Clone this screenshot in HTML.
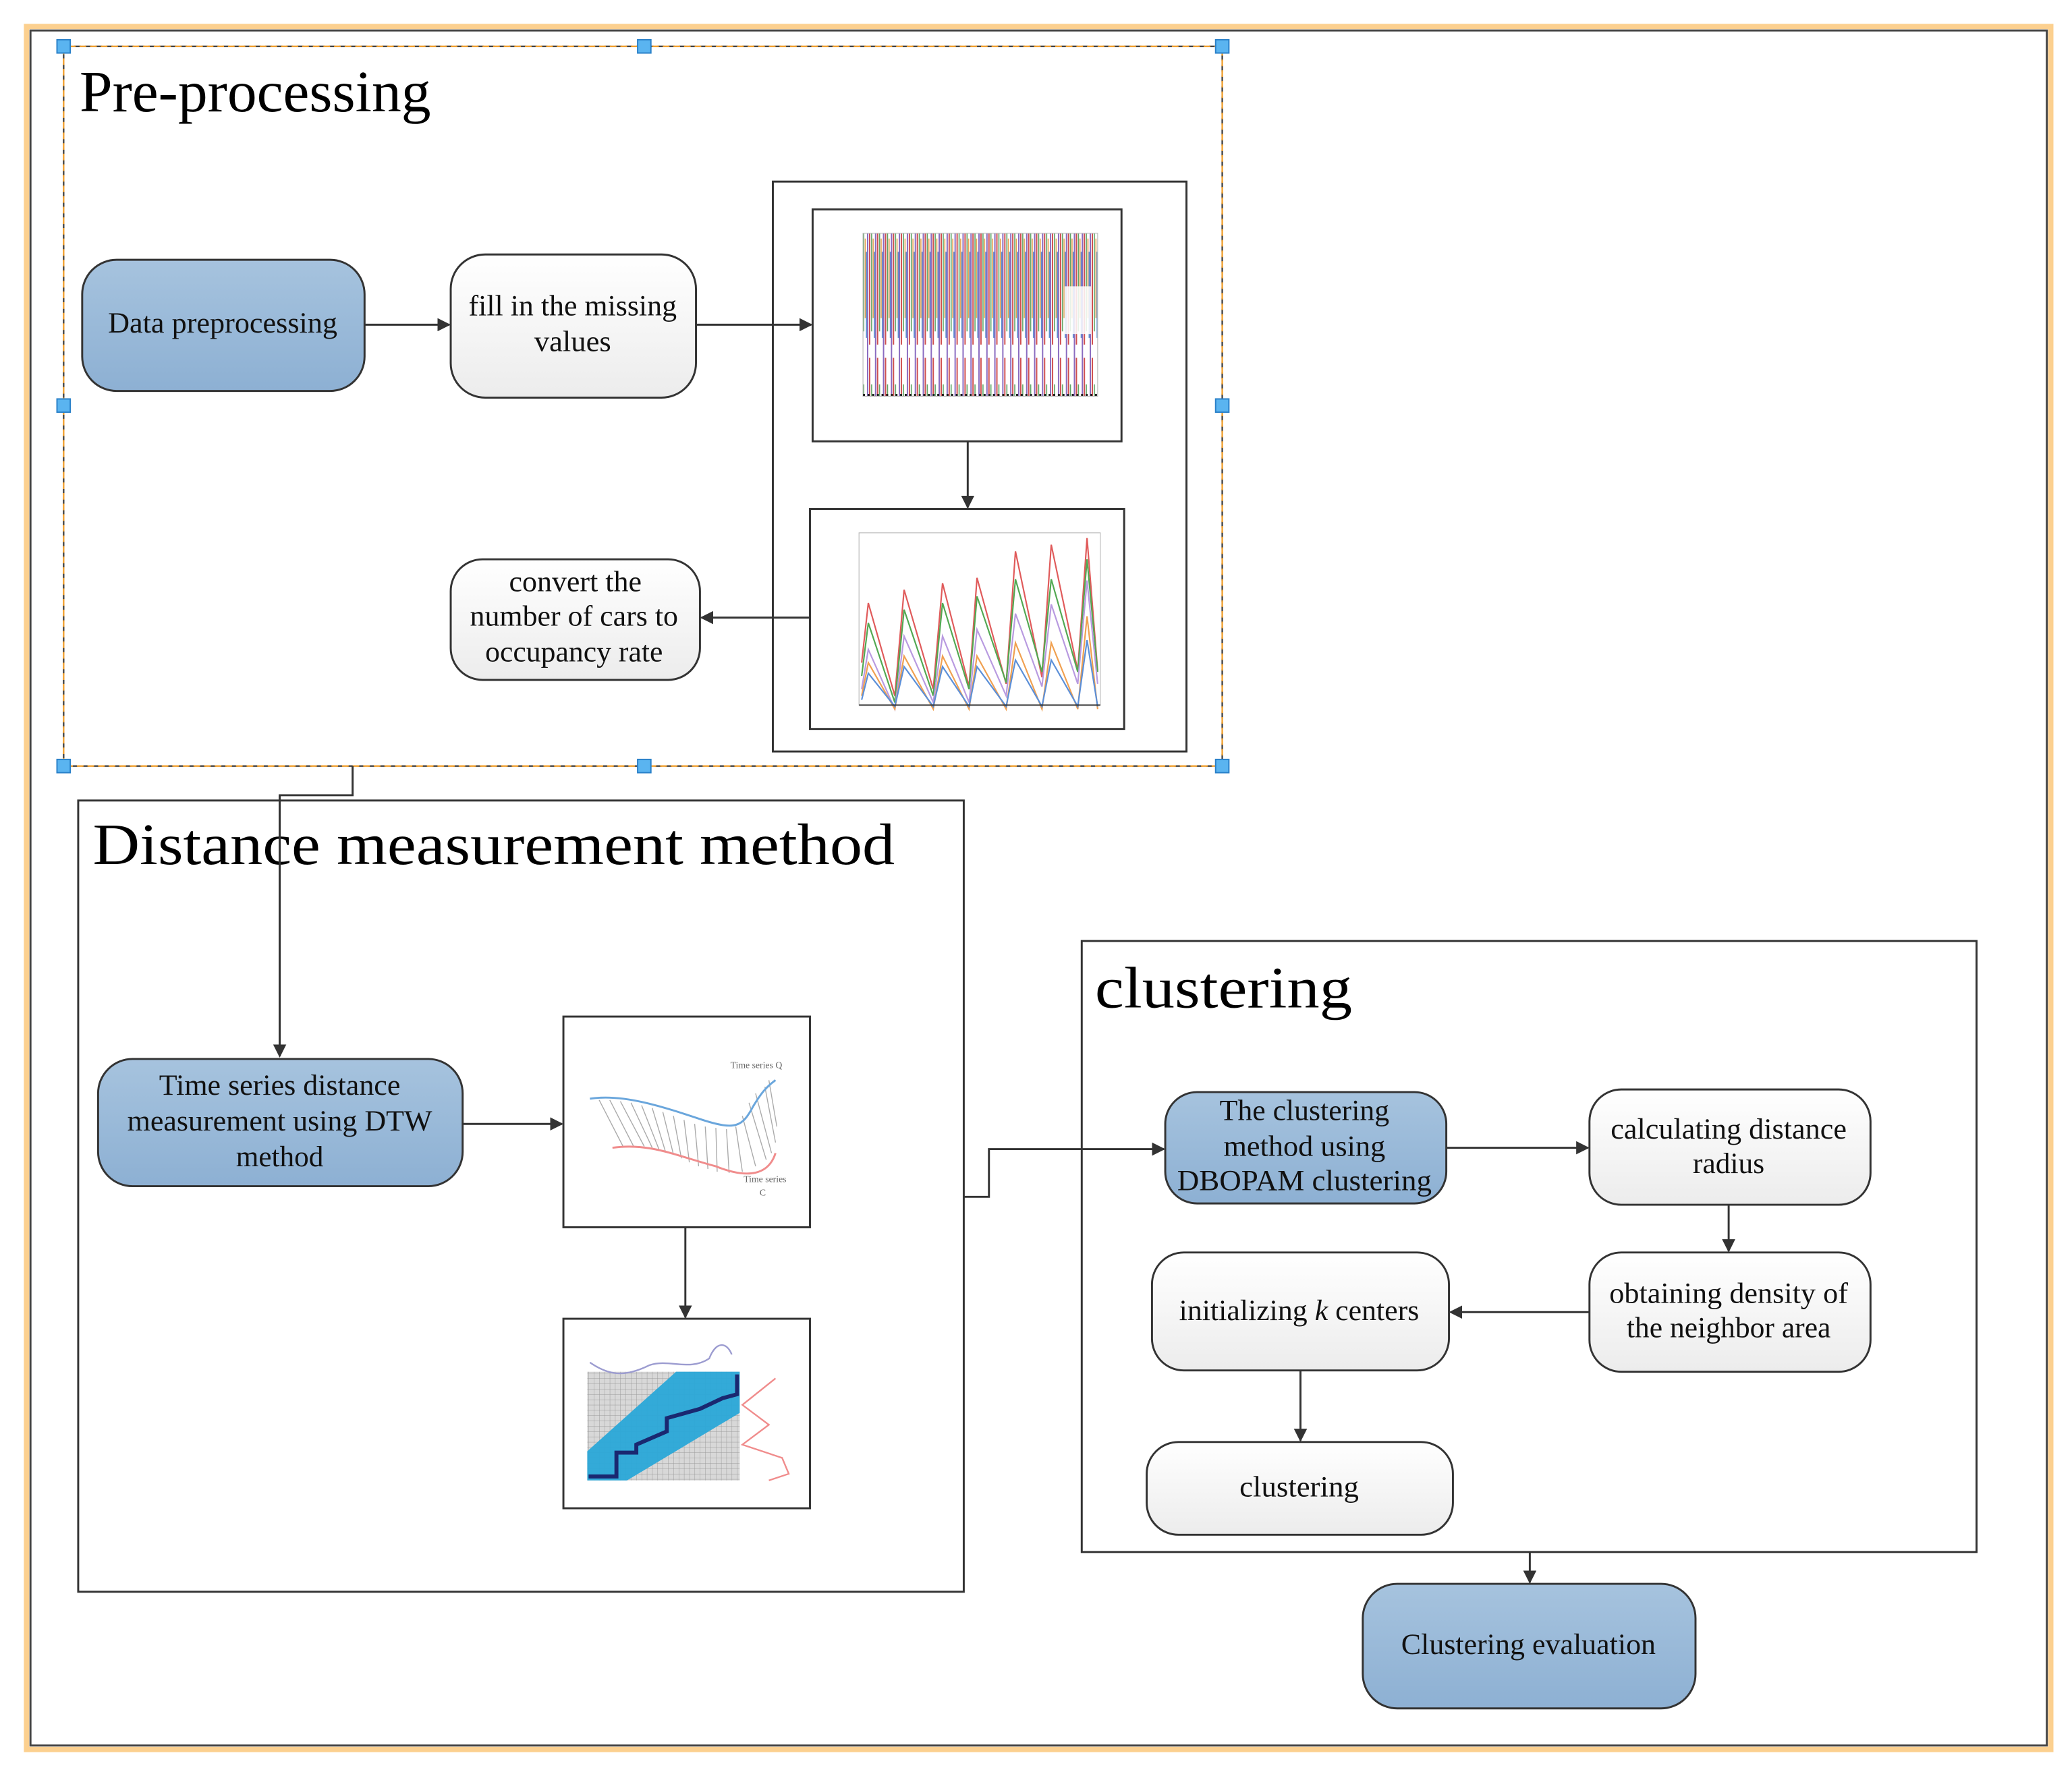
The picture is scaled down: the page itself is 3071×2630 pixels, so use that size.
<!DOCTYPE html>
<html><head><meta charset="utf-8"><style>html,body{margin:0;padding:0;background:#fff}svg{display:block}</style></head><body>
<svg width="3071" height="2630" viewBox="0 0 1563 1338.5" preserveAspectRatio="none" xmlns="http://www.w3.org/2000/svg" font-family="'Liberation Serif', serif">
<defs>
<linearGradient id="blue" x1="0" y1="0" x2="0" y2="1"><stop offset="0" stop-color="#a6c3de"/><stop offset="1" stop-color="#8db0d3"/></linearGradient>
<linearGradient id="wht" x1="0" y1="0" x2="0" y2="1"><stop offset="0" stop-color="#ffffff"/><stop offset="1" stop-color="#ececec"/></linearGradient>
<marker id="ar" markerWidth="10" markerHeight="10" refX="9" refY="5" orient="auto" markerUnits="userSpaceOnUse"><path d="M0,0 L10,5 L0,10 Z" fill="#333"/></marker>
<pattern id="spk" width="6" height="130" patternUnits="userSpaceOnUse">
<rect width="6" height="130" fill="#fff"/>
<line x1="0.5" y1="0" x2="0.5" y2="130" stroke="#8a6bc0" stroke-width="1"/>
<line x1="2" y1="10" x2="2" y2="130" stroke="#d05050" stroke-width="1"/>
<line x1="3.5" y1="30" x2="3.5" y2="120" stroke="#5aa060" stroke-width="0.8"/>
<line x1="4.7" y1="50" x2="4.7" y2="110" stroke="#e8a050" stroke-width="0.8"/>
<line x1="5.6" y1="60" x2="5.6" y2="125" stroke="#5b8fd0" stroke-width="0.8"/>
</pattern>
<pattern id="grid" width="4" height="4" patternUnits="userSpaceOnUse"><rect width="4" height="4" fill="#d8d8d8"/><path d="M0,0 H4 M0,0 V4" stroke="#9a9a9a" stroke-width="0.5"/></pattern>
</defs>

<rect x="20" y="20" width="1527" height="1300" fill="none" stroke="#fcd08f" stroke-width="4"/>
<rect x="23" y="23" width="1521" height="1294" fill="none" stroke="#444" stroke-width="1.5"/>

<rect x="48" y="35" width="874" height="543" fill="none" stroke="#444" stroke-width="1.2" stroke-dasharray="5,3"/>
<rect x="48" y="35" width="874" height="543" fill="none" stroke="#f0a030" stroke-width="1.2" stroke-dasharray="5,3" stroke-dashoffset="4"/>
<g fill="#5ab4f0" stroke="#2a80c8" stroke-width="1">
<rect x="43" y="30" width="10" height="10"/><rect x="481" y="30" width="10" height="10"/><rect x="917" y="30" width="10" height="10"/>
<rect x="43" y="301" width="10" height="10"/><rect x="917" y="301" width="10" height="10"/>
<rect x="43" y="573" width="10" height="10"/><rect x="481" y="573" width="10" height="10"/><rect x="917" y="573" width="10" height="10"/>
</g>
<text x="60" y="84" font-size="44" textLength="265" lengthAdjust="spacingAndGlyphs">Pre-processing</text>

<g stroke="#333" stroke-width="1.5">
<rect x="62" y="196" width="213" height="99" rx="26" fill="url(#blue)"/>
<rect x="340" y="192" width="185" height="108" rx="26" fill="url(#wht)"/>
<rect x="340" y="422" width="188" height="91" rx="24" fill="url(#wht)"/>
</g>
<g font-size="22" text-anchor="middle" fill="#111" lengthAdjust="spacingAndGlyphs">
<text x="168" y="251" textLength="173" lengthAdjust="spacingAndGlyphs">Data preprocessing</text>
<text x="432" y="238" textLength="157" lengthAdjust="spacingAndGlyphs">fill in the missing</text><text x="432" y="265" textLength="58" lengthAdjust="spacingAndGlyphs">values</text>
<text x="434" y="446" textLength="100" lengthAdjust="spacingAndGlyphs">convert the</text><text x="433" y="472" textLength="157" lengthAdjust="spacingAndGlyphs">number of cars to</text><text x="433" y="499" textLength="134" lengthAdjust="spacingAndGlyphs">occupancy rate</text>
</g>

<rect x="583" y="137" width="312" height="430" fill="#fff" stroke="#333" stroke-width="1.5"/>
<rect x="613" y="158" width="233" height="175" fill="#fff" stroke="#333" stroke-width="1.5"/>
<rect x="611" y="384" width="237" height="166" fill="#fff" stroke="#333" stroke-width="1.5"/>
<rect x="651" y="176" width="177" height="123" fill="url(#spk)"/>
<rect x="651" y="176" width="177" height="123" fill="none" stroke="#bbb" stroke-width="0.6"/>
<rect x="803" y="216" width="20" height="36" fill="#fff" opacity="0.85"/>
<line x1="651" y1="298" x2="828" y2="298" stroke="#222" stroke-width="1.5" stroke-dasharray="1.5,2"/>
<rect x="648" y="402" width="182" height="130" fill="#fff" stroke="#bbb" stroke-width="0.6"/>
<g fill="none" stroke-width="1.1">
<path d="M650,500 l5,-45 l20,70 l7,-80 l22,75 l7,-80 l20,78 l6,-82 l22,80 l7,-100 l20,95 l7,-100 l20,95 l7,-100 l8,100" stroke="#e05a5a"/>
<path d="M650,510 l5,-40 l20,60 l7,-70 l22,65 l7,-70 l20,65 l6,-70 l22,65 l7,-78 l20,70 l7,-70 l20,70 l7,-85 l8,85" stroke="#52a852"/>
<path d="M650,520 l5,-30 l20,45 l7,-55 l22,50 l7,-50 l20,50 l6,-55 l22,50 l7,-62 l20,55 l7,-62 l20,60 l7,-78 l8,78" stroke="#b89ae0"/>
<path d="M650,525 l5,-25 l20,35 l7,-40 l22,40 l7,-40 l20,40 l6,-40 l22,40 l7,-50 l20,50 l7,-50 l20,50 l7,-70 l8,70" stroke="#f0a050"/>
<path d="M650,528 l5,-20 l20,25 l7,-30 l22,30 l7,-30 l20,30 l6,-30 l22,30 l7,-35 l20,35 l7,-35 l20,35 l7,-50 l8,50" stroke="#5b8fd8"/>
</g>
<line x1="648" y1="532" x2="830" y2="532" stroke="#333" stroke-width="1"/>

<g stroke="#333" stroke-width="1.5" fill="none">
<line x1="275" y1="245" x2="339" y2="245" marker-end="url(#ar)"/>
<line x1="525" y1="245" x2="612" y2="245" marker-end="url(#ar)"/>
<line x1="730" y1="333" x2="730" y2="383" marker-end="url(#ar)"/>
<line x1="611" y1="466" x2="529" y2="466" marker-end="url(#ar)"/>
<polyline points="266,578 266,600 211,600 211,797" marker-end="url(#ar)"/>
</g>

<rect x="59" y="604" width="668" height="597" fill="none" stroke="#333" stroke-width="1.5"/>
<text x="70" y="652" font-size="44" textLength="605" lengthAdjust="spacingAndGlyphs">Distance measurement method</text>
<line x1="211" y1="600" x2="211" y2="797" stroke="#333" stroke-width="1.5"/>
<rect x="74" y="799" width="275" height="96" rx="26" fill="url(#blue)" stroke="#333" stroke-width="1.5"/>
<g font-size="22" text-anchor="middle" fill="#111">
<text x="211" y="826" textLength="182" lengthAdjust="spacingAndGlyphs">Time series distance</text><text x="211" y="853" textLength="230" lengthAdjust="spacingAndGlyphs">measurement using DTW</text><text x="211" y="880" textLength="66" lengthAdjust="spacingAndGlyphs">method</text>
</g>
<rect x="425" y="767" width="186" height="159" fill="#fff" stroke="#333" stroke-width="1.5"/>
<rect x="425" y="995" width="186" height="143" fill="#fff" stroke="#333" stroke-width="1.5"/>
<g stroke="#aaa" stroke-width="0.7">
<line x1="452" y1="830" x2="470" y2="865"/><line x1="460" y1="830" x2="478" y2="865"/><line x1="468" y1="831" x2="486" y2="865"/><line x1="476" y1="832" x2="492" y2="866"/><line x1="484" y1="834" x2="497" y2="867"/><line x1="492" y1="836" x2="502" y2="869"/><line x1="500" y1="839" x2="508" y2="871"/><line x1="508" y1="842" x2="514" y2="874"/><line x1="516" y1="845" x2="520" y2="877"/><line x1="524" y1="848" x2="527" y2="880"/><line x1="532" y1="850" x2="534" y2="882"/><line x1="540" y1="851" x2="541" y2="884"/><line x1="548" y1="852" x2="550" y2="885"/><line x1="555" y1="850" x2="560" y2="884"/><line x1="560" y1="842" x2="570" y2="880"/><line x1="565" y1="832" x2="578" y2="875"/><line x1="570" y1="825" x2="582" y2="870"/><line x1="577" y1="820" x2="585" y2="862"/><line x1="580" y1="815" x2="586" y2="850"/>
</g>
<path d="M445,829 C470,825 500,835 530,845 C555,853 560,850 568,835 C574,825 578,820 585,815" fill="none" stroke="#6aa6dc" stroke-width="1.5"/>
<path d="M462,866 C490,862 510,872 540,880 C565,890 580,886 585,870" fill="none" stroke="#f08c8c" stroke-width="1.5"/>
<text x="551" y="806" font-size="7" fill="#666">Time series Q</text>
<text x="561" y="892" font-size="7" fill="#666">Time series</text>
<text x="573" y="902" font-size="7" fill="#666">C</text>
<rect x="443" y="1035" width="115" height="82" fill="url(#grid)"/>
<polygon points="443,1095 510,1035 558,1035 558,1066 473,1117 443,1117" fill="#2aa8d8" opacity="0.95"/>
<polyline points="444,1114 465,1114 465,1096 480,1096 480,1090 503,1080 503,1070 528,1063 545,1055 556,1052 556,1037" fill="none" stroke="#1a2870" stroke-width="3"/>
<path d="M445,1028 C458,1037 470,1040 490,1030 C505,1025 520,1035 535,1025 C540,1012 548,1012 552,1022" fill="none" stroke="#9c9cd0" stroke-width="1.2"/>
<path d="M585,1040 L560,1060 L580,1075 L560,1090 L590,1100 L595,1112 L580,1117" fill="none" stroke="#f08c8c" stroke-width="1.2"/>
<g stroke="#333" stroke-width="1.5" fill="none">
<line x1="349" y1="848" x2="424" y2="848" marker-end="url(#ar)"/>
<line x1="517" y1="926" x2="517" y2="994" marker-end="url(#ar)"/>
<polyline points="727,903 746,903 746,867 878,867" marker-end="url(#ar)"/>
</g>

<rect x="816" y="710" width="675" height="461" fill="none" stroke="#333" stroke-width="1.5"/>
<text x="826" y="760" font-size="44" textLength="194" lengthAdjust="spacingAndGlyphs">clustering</text>
<g stroke="#333" stroke-width="1.5">
<rect x="879" y="824" width="212" height="84" rx="24" fill="url(#blue)"/>
<rect x="1199" y="822" width="212" height="87" rx="24" fill="url(#wht)"/>
<rect x="1199" y="945" width="212" height="90" rx="24" fill="url(#wht)"/>
<rect x="869" y="945" width="224" height="89" rx="24" fill="url(#wht)"/>
<rect x="865" y="1088" width="231" height="70" rx="24" fill="url(#wht)"/>
<rect x="1028" y="1195" width="251" height="94" rx="26" fill="url(#blue)"/>
</g>
<g font-size="22" text-anchor="middle" fill="#111">
<text x="984" y="845" textLength="128" lengthAdjust="spacingAndGlyphs">The clustering</text><text x="984" y="872" textLength="122" lengthAdjust="spacingAndGlyphs">method using</text><text x="984" y="898" textLength="192" lengthAdjust="spacingAndGlyphs">DBOPAM clustering</text>
<text x="1304" y="859" textLength="178" lengthAdjust="spacingAndGlyphs">calculating distance</text><text x="1304" y="885" textLength="54" lengthAdjust="spacingAndGlyphs">radius</text>
<text x="1304" y="983" textLength="180" lengthAdjust="spacingAndGlyphs">obtaining density of</text><text x="1304" y="1009" textLength="154" lengthAdjust="spacingAndGlyphs">the neighbor area</text>
<text x="980" y="996" textLength="181" lengthAdjust="spacingAndGlyphs">initializing <tspan font-style="italic">k</tspan> centers</text>
<text x="980" y="1129" textLength="90" lengthAdjust="spacingAndGlyphs">clustering</text>
<text x="1153" y="1248" textLength="192" lengthAdjust="spacingAndGlyphs">Clustering evaluation</text>
</g>
<g stroke="#333" stroke-width="1.5" fill="none">
<line x1="1091" y1="866" x2="1198" y2="866" marker-end="url(#ar)"/>
<line x1="1304" y1="909" x2="1304" y2="944" marker-end="url(#ar)"/>
<line x1="1199" y1="990" x2="1094" y2="990" marker-end="url(#ar)"/>
<line x1="981" y1="1034" x2="981" y2="1087" marker-end="url(#ar)"/>
<line x1="1154" y1="1171" x2="1154" y2="1194" marker-end="url(#ar)"/>
</g>
</svg>
</body></html>
